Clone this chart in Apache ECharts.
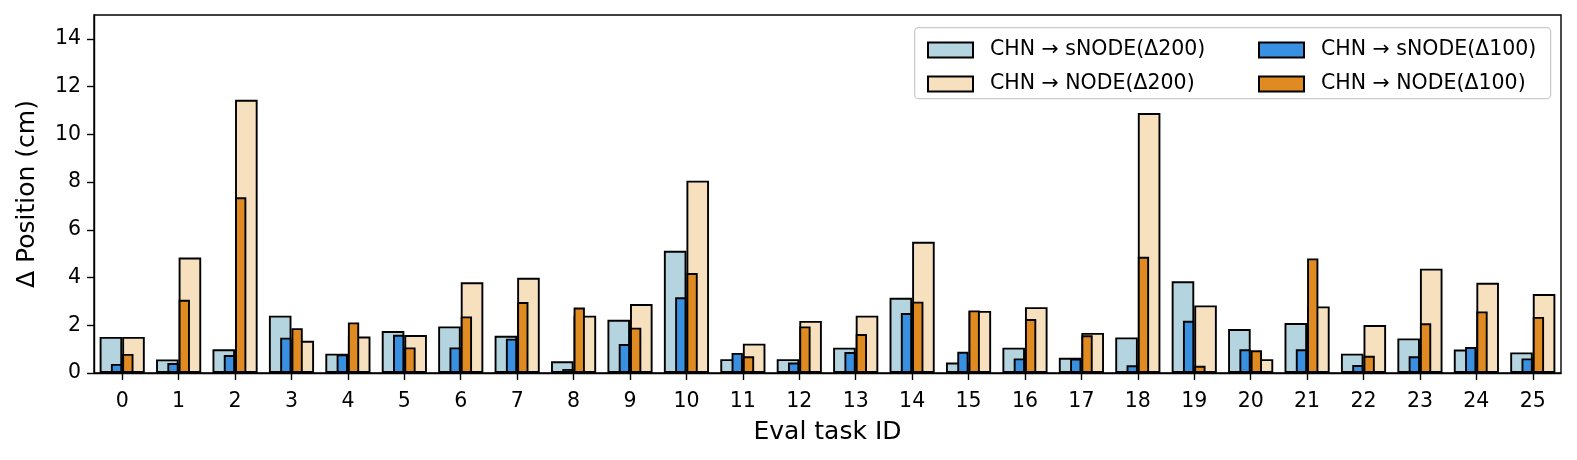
<!DOCTYPE html>
<html>
<head>
<meta charset="utf-8">
<script src="https://cdn.jsdelivr.net/npm/echarts@6/dist/echarts.min.js"></script>
<style>
html,body{margin:0;padding:0;background:#fff;}
#chart{width:1577px;height:460px;}
</style>
</head>
<body>
<div id="chart"></div>
<script>
const categories = ['0','1','2','3','4','5','6','7','8','9','10','11','12','13','14','15','16','17','18','19','20','21','22','23','24','25'];
const sNODE200 = [1.51,0.57,0.99,2.40,0.81,1.76,1.95,1.56,0.49,2.23,5.12,0.58,0.58,1.06,3.15,0.44,1.06,0.64,1.49,3.84,1.84,2.09,0.81,1.45,0.98,0.86];
const NODE200  = [1.51,4.84,11.45,1.35,1.53,1.59,3.80,3.99,2.40,2.89,8.06,1.23,2.18,2.40,5.50,2.60,2.76,1.68,10.89,2.83,0.58,2.79,2.01,4.37,3.78,3.31];
const sNODE100 = [0.38,0.42,0.75,1.48,0.78,1.60,1.07,1.44,0.17,1.21,3.17,0.84,0.44,0.88,2.51,0.89,0.61,0.60,0.32,2.19,0.99,0.99,0.33,0.70,1.09,0.61];
const NODE100  = [0.80,3.07,7.36,1.88,2.12,1.07,2.37,2.97,2.74,1.90,4.19,0.70,1.95,1.63,2.99,2.62,2.26,1.58,4.87,0.30,0.95,4.80,0.72,2.08,2.58,2.35];
const yTicks = [0,2,4,6,8,10,12,14];

const names = ['CHN → sNODE(Δ200)','CHN → NODE(Δ200)','CHN → sNODE(Δ100)','CHN → NODE(Δ100)'];
const colors = ['#b4d4df','#f6e0be','#3a90e0','#e08a22'];
const FONT = 'DejaVu Sans';

const chart = echarts.init(document.getElementById('chart'), null, {renderer:'canvas'});
const edge = {borderColor:'#000', borderWidth:1.9};
const legendCommon = {
  orient:'vertical', itemWidth:45, itemHeight:15, itemGap:10,
  icon:'rect',
  textStyle:{fontFamily:FONT, fontSize:20.5, color:'#000', lineHeight:24, padding:[0,0,0,12]},
  selectedMode:false
};
chart.setOption({
  animation:false,
  backgroundColor:'#fff',
  grid:{left:94, right:16, top:15, bottom:87, show:true, borderColor:'#000', borderWidth:1.4, backgroundColor:'transparent'},
  graphic:[{
    type:'rect', left:914, top:27, z:50,
    shape:{width:636, height:71, r:4},
    style:{fill:'rgba(255,255,255,0.85)', stroke:'#cccccc', lineWidth:1.3}
  }],
  legend:[
    Object.assign({left:922, top:33, data:[names[0],names[1]], z:60}, legendCommon),
    Object.assign({left:1253, top:33, data:[names[2],names[3]], z:60}, legendCommon)
  ],
  xAxis:[{
    type:'category', data:categories, boundaryGap:true,
    name:'Eval task ID', nameLocation:'middle', nameGap:47,
    nameTextStyle:{fontFamily:FONT, fontSize:25, color:'#000'},
    axisLine:{show:true, lineStyle:{color:'#000', width:1.4}},
    axisTick:{show:true, alignWithLabel:true, length:7, inside:false, lineStyle:{color:'#000', width:1.4}},
    axisLabel:{fontFamily:FONT, fontSize:20.5, color:'#000', margin:18, interval:0},
    splitLine:{show:false}
  },{
    type:'category', data:categories, boundaryGap:true, show:false, position:'bottom'
  }],
  yAxis:{
    type:'value', min:0, max:15, interval:2,
    name:'Δ Position (cm)', nameLocation:'middle', nameGap:54,
    nameTextStyle:{fontFamily:FONT, fontSize:25, color:'#000'},
    axisLine:{show:true, lineStyle:{color:'#000', width:1.4}},
    axisTick:{show:true, length:7, inside:false, customValues:yTicks, lineStyle:{color:'#000', width:1.4}},
    axisLabel:{fontFamily:FONT, fontSize:20.5, color:'#000', margin:13, customValues:yTicks},
    splitLine:{show:false}
  },
  series:[
    {name:names[0], type:'bar', xAxisIndex:0, data:sNODE200, barWidth:'40%', barGap:'0%', itemStyle:Object.assign({color:colors[0]}, edge), z:2},
    {name:names[1], type:'bar', xAxisIndex:0, data:NODE200, barWidth:'40%', barGap:'0%', itemStyle:Object.assign({color:colors[1]}, edge), z:2},
    {name:names[2], type:'bar', xAxisIndex:1, data:sNODE100, barWidth:'20%', barGap:'0%', itemStyle:Object.assign({color:colors[2]}, edge), z:3},
    {name:names[3], type:'bar', xAxisIndex:1, data:NODE100, barWidth:'20%', barGap:'0%', itemStyle:Object.assign({color:colors[3]}, edge), z:3}
  ]
});
</script>
</body>
</html>
